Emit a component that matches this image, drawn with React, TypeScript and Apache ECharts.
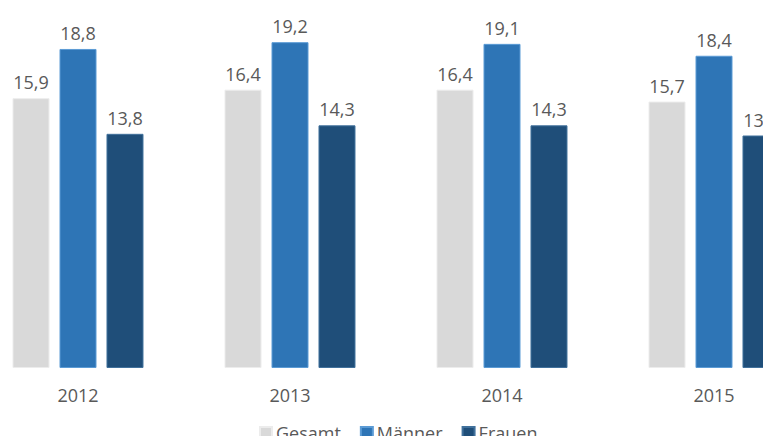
import React, { useEffect, useRef } from "react";
import * as echarts from "echarts";

const years = ["2012", "2013", "2014", "2015"];
const gesamt = [15.9, 16.4, 16.4, 15.7];
const maenner = [18.8, 19.2, 19.1, 18.4];
const frauen = [13.8, 14.3, 14.3, 13.7];

const FONT = "'Open Sans', 'Noto Sans', sans-serif";

export default function App() {
  const ref = useRef<HTMLDivElement>(null);
  useEffect(() => {
    if (!ref.current) return;
    const chart = echarts.init(ref.current, null, { renderer: "svg" });
    const label = {
      show: true,
      position: "top" as const,
      distance: 7,
      color: "#595959",
      fontSize: 18,
      lineHeight: 18,
      fontFamily: FONT,
      formatter: (p: any) => String(p.value).replace(".", ","),
    };
    const mk = (name: string, data: number[], color: string, border: string) => ({
      name,
      type: "bar" as const,
      data,
      barWidth: 37,
      barGap: "27%",
      itemStyle: { color, borderColor: border, borderWidth: 1 },
      label,
    });
    chart.setOption({
      animation: false,
      grid: { left: 0, right: 0, top: 28.6, height: 339.4 },
      xAxis: {
        type: "category",
        data: years,
        axisLine: { show: false },
        axisTick: { show: false },
        axisLabel: { color: "#595959", fontSize: 18, lineHeight: 18, fontFamily: FONT, margin: 18 },
      },
      yAxis: { type: "value", min: 0, max: 20, show: false, splitLine: { show: false } },
      legend: {
        left: 287,
        top: 424,
        padding: 0,
        itemWidth: 12,
        itemHeight: 12,
        itemGap: 19,
        icon: "rect",
        textStyle: { color: "#595959", fontSize: 18, lineHeight: 18, fontFamily: FONT, padding: [0, 0, 0, -1] },
        data: ["Gesamt", "Männer", "Frauen"],
      },
      series: [
        mk("Gesamt", gesamt, "#d9d9d9", "#ececec"),
        mk("Männer", maenner, "#2e75b6", "#5b9bd5"),
        mk("Frauen", frauen, "#1f4e79", "#41719c"),
      ],
    });
    return () => chart.dispose();
  }, []);
  return (
    <div style={{ width: 771, height: 444, margin: -8, overflow: "hidden", position: "relative" }}>
      <div ref={ref} style={{ position: "absolute", left: -28, top: 0, width: 848, height: 444 }} />
    </div>
  );
}
